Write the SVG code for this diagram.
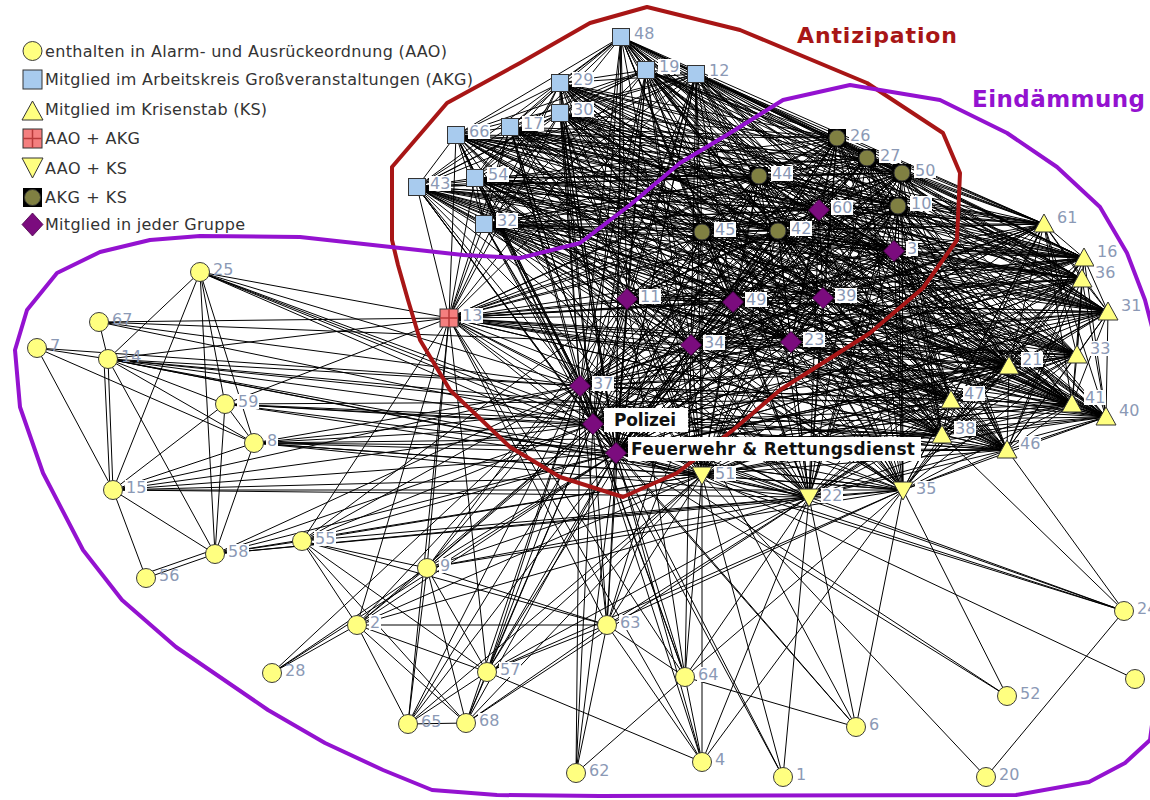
<svg xmlns="http://www.w3.org/2000/svg" width="1150" height="800" viewBox="0 0 1150 800">
<style>
.e{stroke:#000;stroke-width:1;fill:none;stroke-linejoin:miter}
.a{fill:#ffff80;stroke:#3a3a3a;stroke-width:1}
.k{fill:#a8cbee;stroke:#333;stroke-width:1}
.t{fill:#ffff80;stroke:#333;stroke-width:1}
.d{fill:#7b0c7e;stroke:#4a004a;stroke-width:0.8}
.o{fill:#808042;stroke:#333;stroke-width:1}
.bk{fill:#000}
.lb{fill:#fff}
.l{font-family:"DejaVu Sans",Verdana,sans-serif;font-size:16px;fill:#8b99b5}
.lg{font-family:"DejaVu Sans",Verdana,sans-serif;font-size:16px;fill:#333}
.big{font-family:"DejaVu Sans",Verdana,sans-serif;font-weight:bold;font-size:17px;fill:#111}
</style>
<rect width="1150" height="800" fill="#fff"/>
<g id="edges">
<polygon class="e" points="621,37 819,210 1044,224 417,187 627,299 837,138 1106,417 646,70 580,386 809,497 867,158 1108,312 456,135 733,302 759,176 1009,366 696,74 593,424 902,173 1084,258 484,224 691,345 449,318 1007,450 560,83 894,251 898,206 1077,355 475,178 616,453 702,232 942,435 560,113 823,298 903,490 1082,279 510,127 791,342 778,231 951,400 702,475 1072,404 616,453"/>
<polygon class="e" points="621,37 1044,224 627,299 1106,417 580,386 867,158 456,135 759,176 696,74 902,173 484,224 449,318 560,83 898,206 475,178 702,232 560,113 903,490 510,127 778,231 702,475 616,453 819,210 417,187 837,138 646,70 809,497 1108,312 733,302 1009,366 593,424 1084,258 691,345 1007,450 894,251 1077,355 616,453 942,435 823,298 1082,279 791,342 951,400 1072,404"/>
<polygon class="e" points="621,37 417,187 1106,417 809,497 456,135 1009,366 902,173 691,345 560,83 1077,355 702,232 823,298 510,127 951,400 616,453 1044,224 837,138 580,386 1108,312 759,176 593,424 484,224 1007,450 898,206 616,453 560,113 1082,279 778,231 1072,404 819,210 627,299 646,70 867,158 733,302 696,74 1084,258 449,318 894,251 475,178 942,435 903,490 791,342 702,475"/>
<polygon class="e" points="621,37 627,299 580,386 456,135 696,74 484,224 560,83 475,178 560,113 510,127 702,475 819,210 837,138 809,497 733,302 593,424 691,345 894,251 616,453 823,298 791,342 1072,404 1044,224 1106,417 867,158 759,176 902,173 449,318 898,206 702,232 903,490 778,231 616,453 417,187 646,70 1108,312 1009,366 1084,258 1007,450 1077,355 942,435 1082,279 951,400"/>
<polygon class="e" points="621,37 837,138 867,158 1009,366 484,224 894,251 702,232 1082,279 702,475 1044,224 646,70 456,135 593,424 449,318 1077,355 560,113 791,342 616,453 627,299 809,497 759,176 1084,258 560,83 616,453 903,490 951,400 819,210 1106,417 1108,312 696,74 691,345 898,206 942,435 510,127 1072,404 417,187 580,386 733,302 902,173 1007,450 475,178 823,298 778,231"/>
<polygon class="e" points="621,37 1106,417 456,135 902,173 560,83 702,232 510,127 616,453 837,138 1108,312 593,424 1007,450 616,453 1082,279 1072,404 627,299 867,158 696,74 449,318 475,178 903,490 702,475 417,187 809,497 1009,366 691,345 1077,355 823,298 951,400 1044,224 580,386 759,176 484,224 898,206 560,113 778,231 819,210 646,70 733,302 1084,258 894,251 942,435 791,342"/>
<polygon class="e" points="621,37 646,70 759,176 691,345 475,178 1082,279 616,453 1106,417 733,302 484,224 1077,355 903,490 1072,404 837,138 456,135 1084,258 898,206 823,298 702,475 627,299 1108,312 902,173 894,251 560,113 951,400 417,187 867,158 593,424 560,83 942,435 778,231 1044,224 809,497 696,74 1007,450 702,232 791,342 819,210 580,386 1009,366 449,318 616,453 510,127"/>
<polygon class="e" points="621,37 580,386 696,74 560,83 560,113 702,475 837,138 733,302 691,345 616,453 791,342 1044,224 867,158 902,173 898,206 903,490 616,453 646,70 1009,366 1007,450 942,435 951,400 627,299 456,135 484,224 475,178 510,127 819,210 809,497 593,424 894,251 823,298 1072,404 1106,417 759,176 449,318 702,232 778,231 417,187 1108,312 1084,258 1077,355 1082,279"/>
<polygon class="e" points="621,37 809,497 902,173 1077,355 510,127 1044,224 1108,312 484,224 616,453 778,231 627,299 733,302 449,318 942,435 702,475 1106,417 1009,366 560,83 823,298 616,453 580,386 593,424 898,206 1082,279 819,210 867,158 1084,258 475,178 791,342 417,187 456,135 691,345 702,232 951,400 837,138 759,176 1007,450 560,113 1072,404 646,70 696,74 894,251 903,490"/>
<polygon class="e" points="621,37 867,158 484,224 702,232 702,475 646,70 593,424 1077,355 791,342 627,299 759,176 560,83 903,490 819,210 1108,312 691,345 942,435 1072,404 580,386 902,173 475,178 778,231 837,138 1009,366 894,251 1082,279 1044,224 456,135 449,318 560,113 616,453 809,497 1084,258 616,453 951,400 1106,417 696,74 898,206 510,127 417,187 733,302 1007,450 823,298"/>
<polygon class="e" points="621,37 1108,312 449,318 823,298 819,210 456,135 1007,450 903,490 1044,224 733,302 560,83 1082,279 417,187 759,176 894,251 510,127 627,299 1009,366 898,206 791,342 837,138 696,74 1077,355 778,231 1106,417 593,424 475,178 951,400 646,70 902,173 616,453 702,475 580,386 1084,258 702,232 1072,404 809,497 484,224 942,435 616,453 867,158 691,345 560,113"/>
<polygon class="e" points="621,37 456,135 560,83 510,127 837,138 593,424 616,453 1072,404 867,158 449,318 903,490 417,187 1009,366 1077,355 951,400 580,386 484,224 560,113 819,210 733,302 894,251 791,342 1106,417 902,173 702,232 616,453 1108,312 1007,450 1082,279 627,299 696,74 475,178 702,475 809,497 691,345 823,298 1044,224 759,176 898,206 778,231 646,70 1084,258 942,435"/>
<polygon class="e" points="621,37 733,302 898,206 951,400 809,497 449,318 1082,279 837,138 902,173 942,435 819,210 759,176 1077,355 702,475 867,158 1007,450 510,127 1106,417 1084,258 560,113 1044,224 1009,366 475,178 1072,404 1108,312 560,83 791,342 646,70 484,224 823,298 417,187 696,74 616,453 616,453 456,135 894,251 778,231 580,386 691,345 903,490 627,299 593,424 702,232"/>
<polygon class="e" points="621,37 759,176 475,178 616,453 733,302 1077,355 1072,404 456,135 898,206 702,475 1108,312 894,251 951,400 867,158 560,83 778,231 809,497 1007,450 791,342 580,386 449,318 510,127 646,70 691,345 1082,279 1106,417 484,224 903,490 837,138 1084,258 823,298 627,299 902,173 560,113 417,187 593,424 942,435 1044,224 696,74 702,232 819,210 1009,366 616,453"/>
<polygon class="e" points="621,37 1009,366 702,232 1044,224 593,424 560,113 627,299 1084,258 903,490 1106,417 691,345 510,127 580,386 1007,450 778,231 867,158 894,251 702,475 456,135 1077,355 616,453 759,176 616,453 819,210 696,74 942,435 417,187 902,173 823,298 837,138 484,224 1082,279 646,70 449,318 791,342 809,497 560,83 951,400 1108,312 898,206 1072,404 733,302 475,178"/>
<polygon class="e" points="621,37 696,74 560,113 837,138 691,345 791,342 867,158 898,206 616,453 1009,366 942,435 627,299 484,224 510,127 809,497 894,251 1072,404 759,176 702,232 417,187 1084,258 1082,279 580,386 560,83 702,475 733,302 616,453 1044,224 902,173 903,490 646,70 1007,450 951,400 456,135 475,178 819,210 593,424 823,298 1106,417 449,318 778,231 1108,312 1077,355"/>
<polygon class="e" points="621,37 593,424 903,490 580,386 894,251 616,453 696,74 823,298 646,70 560,83 1072,404 1009,366 560,113 1106,417 1007,450 702,475 759,176 942,435 837,138 449,318 951,400 733,302 702,232 627,299 691,345 778,231 456,135 616,453 417,187 484,224 791,342 1108,312 475,178 1044,224 1084,258 510,127 867,158 1077,355 819,210 902,173 1082,279 809,497 898,206"/>
<polygon class="e" points="621,37 902,173 510,127 1108,312 616,453 627,299 449,318 702,475 1009,366 823,298 580,386 898,206 819,210 1084,258 791,342 456,135 702,232 837,138 1007,450 1072,404 696,74 903,490 809,497 1077,355 1044,224 484,224 778,231 733,302 942,435 1106,417 560,83 616,453 593,424 1082,279 867,158 475,178 417,187 691,345 951,400 759,176 560,113 646,70 894,251"/>
<polygon class="e" points="621,37 1084,258 778,231 759,176 823,298 809,497 475,178 627,299 1007,450 616,453 902,173 791,342 733,302 560,113 580,386 1077,355 417,187 449,318 1072,404 593,424 510,127 456,135 942,435 646,70 898,206 1044,224 691,345 702,475 696,74 1082,279 1108,312 702,232 1106,417 894,251 819,210 484,224 951,400 1009,366 903,490 867,158 616,453 837,138 560,83"/>
<path class="e" d="M200 272L108 359M200 272L113 490M200 272L215 554M200 272L225 404M200 272L254 443M200 272L593 424M200 272L616 453M200 272L702 475M200 272L809 497M200 272L580 386M200 272L449 318
M99 322L108 359M99 322L449 318M99 322L580 386M99 322L593 424M99 322L691 345
M37 348L108 359M37 348L254 443M37 348L113 490M37 348L580 386
M108 359L113 490M104 360L110 490M108 359L215 554M108 359L254 443M108 359L225 404M108 359L580 386M108 359L593 424M108 359L616 453M108 359L702 475M108 359L809 497M108 359L942 435M108 359L1007 450M108 359L449 318
M225 404L254 443M225 404L113 490M225 404L215 554M225 404L593 424M225 404L616 453M225 404L951 400M225 404L942 435M225 404L1007 450M225 404L702 475M225 404L449 318
M254 443L113 490M254 443L215 554M254 443L616 453M254 443L702 475M254 443L809 497M254 443L903 490M254 443L1007 450M254 443L942 435M254 443L593 424M254 443L580 386M254 443L1009 366
M113 490L146 578M113 490L215 554M113 490L593 424M113 490L616 453M113 490L702 475M113 490L809 497M113 490L903 490M113 490L580 386
M215 554L146 578M213 550L144 574M215 554L302 541M215 554L593 424M215 554L616 453M215 554L580 386M215 554L702 475M215 554L809 497M215 554L903 490
M302 541L357 625M302 541L427 568M302 541L487 672M302 541L466 723M302 541L607 625M302 541L593 424M302 541L616 453M302 541L580 386M302 541L702 475M302 541L809 497M302 541L449 318M302 541L627 299
M427 568L357 625M427 568L487 672M427 568L466 723M427 568L408 724M427 568L607 625M427 568L593 424M427 568L616 453M427 568L580 386M427 568L627 299M427 568L449 318M427 568L702 475M427 568L809 497M427 568L903 490M427 568L691 345
M357 625L607 625M357 625L487 672M357 625L466 723M357 625L408 724M357 625L272 673M357 625L593 424M357 625L616 453M357 625L580 386M357 625L449 318M357 625L702 475M357 625L809 497
M272 673L427 568M272 673L580 386M272 673L616 453
M487 672L466 723M487 672L408 724M487 672L593 424M487 672L616 453M487 672L580 386M487 672L702 475M487 672L809 497M487 672L903 490M487 672L449 318M487 672L627 299M487 672L691 345M487 672L702 762M487 672L607 625
M408 724L466 723M408 724L593 424M408 724L616 453M408 724L580 386M408 724L702 475M408 724L449 318
M466 723L593 424M466 723L616 453M466 723L580 386M466 723L702 475M466 723L809 497M466 723L607 625
M607 625L685 677M607 625L702 762M607 625L580 386M607 625L593 424M607 625L616 453M607 625L702 475M607 625L809 497M607 625L903 490M607 625L627 299M607 625L691 345M607 625L733 302M607 625L449 318M607 625L576 773
M685 677L856 727M685 677L702 762M685 677L580 386M685 677L593 424M685 677L616 453M685 677L702 475M685 677L809 497M685 677L903 490M685 677L627 299M685 677L449 318M685 677L691 345M685 677L576 773
M576 773L616 453M576 773L593 424M576 773L580 386
M702 762L809 497M702 762L702 475M702 762L616 453M702 762L593 424M702 762L903 490M702 762L449 318
M783 777L616 453M783 777L593 424M783 777L702 475M783 777L809 497
M856 727L903 490M856 727L616 453M856 727L593 424M856 727L809 497M856 727L627 299
M1007 696L903 490M1007 696L593 424M1007 696L616 453
M986 777L1124 611M986 777L702 475
M1124 611L1007 450M1124 611L942 435M1124 611L616 453M1124 611L593 424M1124 611L702 475M1124 611L809 497
M1135 679L702 475"/>
</g>
<g id="contours" fill="none" stroke-width="4" stroke-linejoin="round">
<path stroke="#a81616" d="M392 240L392 167L447 103L520 63L590 23L647 7L740 30L867 83L943 133L960 173L957 240L923 288L870 333L780 390L733 430L677 473L623 497L560 477L510 447L450 390L420 340L408 300L398 265Z"/>
<path stroke="#9412d0" d="M400 248L463 255L520 258L580 243L630 205L680 163L730 133L783 100L850 85L940 100L1007 133L1057 167L1100 207L1127 253L1145 300L1158 350L1162 450L1162 650L1150 740L1125 763L1089 782L1016 795L600 796L497 795L432 790L383 770L325 743L268 710L176 647L122 600L83 550L43 473L20 407L15 350L27 310L57 273L100 252L150 240L200 236L300 237Z"/>
</g>
<g id="titles" font-family="DejaVu Sans,Verdana,sans-serif" font-weight="bold">
<text x="797" y="43" font-size="22" fill="#a81616" textLength="160">Antizipation</text>
<text x="972" y="107" font-size="23" fill="#9412d0" textLength="173">Eindämmung</text>
</g>
<g id="legend">
<circle class="a" cx="32.5" cy="51" r="9.5"/>
<text class="lg" x="45" y="57" textLength="402">enthalten in Alarm- und Ausrückeordnung (AAO)</text>
<rect class="k" x="23" y="70" width="19" height="19"/>
<text class="lg" x="45" y="85" textLength="428">Mitglied im Arbeitskreis Großveranstaltungen (AKG)</text>
<polygon class="t" points="22,120 43,120 32.5,101"/>
<text class="lg" x="45" y="115" textLength="222">Mitglied im Krisenstab (KS)</text>
<rect x="23" y="129" width="19" height="19" fill="#f47f7f" stroke="#333"/>
<path d="M32.5 129V148M23 138.5H42" stroke="#b83a3a" stroke-width="1.5"/>
<text class="lg" x="45" y="144" textLength="95">AAO + AKG</text>
<polygon class="t" points="22,158 43,158 32.5,178"/>
<text class="lg" x="45" y="174" textLength="82">AAO + KS</text>
<rect class="bk" x="23" y="188" width="19" height="19"/>
<circle class="o" cx="32.5" cy="197.5" r="8"/>
<text class="lg" x="45" y="203" textLength="82">AKG + KS</text>
<polygon class="d" points="32.5,213 43,224.5 32.5,236 22,224.5"/>
<text class="lg" x="45" y="230" textLength="200">Mitglied in jeder Gruppe</text>
</g>
<g id="n48"><rect class="k" x="612.5" y="28.5" width="17" height="17"/><rect class="lb" x="633" y="26" width="22" height="15"/><text class="l" x="634" y="39">48</text></g>
<g id="n19"><rect class="k" x="637.5" y="61.5" width="17" height="17"/><rect class="lb" x="658" y="59" width="22" height="15"/><text class="l" x="659" y="72">19</text></g>
<g id="n12"><rect class="k" x="687.5" y="65.5" width="17" height="17"/><rect class="lb" x="708" y="63" width="22" height="15"/><text class="l" x="709" y="76">12</text></g>
<g id="n29"><rect class="k" x="551.5" y="74.5" width="17" height="17"/><rect class="lb" x="572" y="72" width="22" height="15"/><text class="l" x="573" y="85">29</text></g>
<g id="n30"><rect class="k" x="551.5" y="104.5" width="17" height="17"/><rect class="lb" x="572" y="102" width="22" height="15"/><text class="l" x="573" y="115">30</text></g>
<g id="n17"><rect class="k" x="501.5" y="118.5" width="17" height="17"/><rect class="lb" x="522" y="116" width="22" height="15"/><text class="l" x="523" y="129">17</text></g>
<g id="n66"><rect class="k" x="447.5" y="126.5" width="17" height="17"/><rect class="lb" x="468" y="124" width="22" height="15"/><text class="l" x="469" y="137">66</text></g>
<g id="n54"><rect class="k" x="466.5" y="169.5" width="17" height="17"/><rect class="lb" x="487" y="167" width="22" height="15"/><text class="l" x="488" y="180">54</text></g>
<g id="n43"><rect class="k" x="408.5" y="178.5" width="17" height="17"/><rect class="lb" x="429" y="176" width="22" height="15"/><text class="l" x="430" y="189">43</text></g>
<g id="n32"><rect class="k" x="475.5" y="215.5" width="17" height="17"/><rect class="lb" x="496" y="213" width="22" height="15"/><text class="l" x="497" y="226">32</text></g>
<g id="n26"><rect class="bk" x="828" y="129" width="18" height="18"/><circle class="o" cx="837" cy="138" r="8"/><rect class="lb" x="849" y="128" width="22" height="15"/><text class="l" x="850" y="141">26</text></g>
<g id="n27"><rect class="bk" x="858" y="149" width="18" height="18"/><circle class="o" cx="867" cy="158" r="8"/><rect class="lb" x="879" y="148" width="22" height="15"/><text class="l" x="880" y="161">27</text></g>
<g id="n50"><rect class="bk" x="893" y="164" width="18" height="18"/><circle class="o" cx="902" cy="173" r="8"/><rect class="lb" x="914" y="163" width="22" height="15"/><text class="l" x="915" y="176">50</text></g>
<g id="n10"><rect class="bk" x="889" y="197" width="18" height="18"/><circle class="o" cx="898" cy="206" r="8"/><rect class="lb" x="910" y="196" width="22" height="15"/><text class="l" x="911" y="209">10</text></g>
<g id="n44"><rect class="bk" x="750" y="167" width="18" height="18"/><circle class="o" cx="759" cy="176" r="8"/><rect class="lb" x="771" y="166" width="22" height="15"/><text class="l" x="772" y="179">44</text></g>
<g id="n45"><rect class="bk" x="693" y="223" width="18" height="18"/><circle class="o" cx="702" cy="232" r="8"/><rect class="lb" x="714" y="222" width="22" height="15"/><text class="l" x="715" y="235">45</text></g>
<g id="n42"><rect class="bk" x="769" y="222" width="18" height="18"/><circle class="o" cx="778" cy="231" r="8"/><rect class="lb" x="790" y="221" width="22" height="15"/><text class="l" x="791" y="234">42</text></g>
<g id="n60"><polygon class="d" points="819,199.5 829.5,210 819,220.5 808.5,210"/><rect class="lb" x="831" y="200" width="22" height="15"/><text class="l" x="832" y="213">60</text></g>
<g id="n3"><polygon class="d" points="894,240.5 904.5,251 894,261.5 883.5,251"/><rect class="lb" x="906" y="241" width="12" height="15"/><text class="l" x="907" y="254">3</text></g>
<g id="n11"><polygon class="d" points="627,288.5 637.5,299 627,309.5 616.5,299"/><rect class="lb" x="639" y="289" width="22" height="15"/><text class="l" x="640" y="302">11</text></g>
<g id="n49"><polygon class="d" points="733,291.5 743.5,302 733,312.5 722.5,302"/><rect class="lb" x="745" y="292" width="22" height="15"/><text class="l" x="746" y="305">49</text></g>
<g id="n39"><polygon class="d" points="823,287.5 833.5,298 823,308.5 812.5,298"/><rect class="lb" x="835" y="288" width="22" height="15"/><text class="l" x="836" y="301">39</text></g>
<g id="n34"><polygon class="d" points="691,334.5 701.5,345 691,355.5 680.5,345"/><rect class="lb" x="703" y="335" width="22" height="15"/><text class="l" x="704" y="348">34</text></g>
<g id="n23"><polygon class="d" points="791,331.5 801.5,342 791,352.5 780.5,342"/><rect class="lb" x="803" y="332" width="22" height="15"/><text class="l" x="804" y="345">23</text></g>
<g id="n37"><polygon class="d" points="580,375.5 590.5,386 580,396.5 569.5,386"/><rect class="lb" x="592" y="376" width="22" height="15"/><text class="l" x="593" y="389">37</text></g>
<g id="polizei"><polygon class="d" points="593,413.5 603.5,424 593,434.5 582.5,424"/><rect class="lb" x="604" y="408" width="84" height="24"/><text class="big" x="614" y="426" textLength="62">Polizei</text></g>
<g id="feuerwehr"><polygon class="d" points="616,442.5 626.5,453 616,463.5 605.5,453"/><rect class="lb" x="628" y="437" width="293" height="24"/><text class="big" x="631" y="455" textLength="284">Feuerwehr &amp; Rettungsdienst</text></g>
<g id="n13"><rect x="440" y="309" width="18" height="18" fill="#f47f7f" stroke="#333"/><path d="M449 309V327M440 318H458" stroke="#b83a3a" stroke-width="1.5"/><rect class="lb" x="461" y="308" width="22" height="15"/><text class="l" x="462" y="321">13</text></g>
<g id="n61"><polygon class="t" points="1044,214 1054,232 1034,232"/><rect class="lb" x="1056" y="210" width="22" height="15"/><text class="l" x="1057" y="223">61</text></g>
<g id="n16"><polygon class="t" points="1084,248 1094,266 1074,266"/><rect class="lb" x="1096" y="244" width="22" height="15"/><text class="l" x="1097" y="257">16</text></g>
<g id="n36"><polygon class="t" points="1082,269 1092,287 1072,287"/><rect class="lb" x="1094" y="265" width="22" height="15"/><text class="l" x="1095" y="278">36</text></g>
<g id="n31"><polygon class="t" points="1108,302 1118,320 1098,320"/><rect class="lb" x="1120" y="298" width="22" height="15"/><text class="l" x="1121" y="311">31</text></g>
<g id="n33"><polygon class="t" points="1077,345 1087,363 1067,363"/><rect class="lb" x="1089" y="341" width="22" height="15"/><text class="l" x="1090" y="354">33</text></g>
<g id="n21"><polygon class="t" points="1009,356 1019,374 999,374"/><rect class="lb" x="1021" y="352" width="22" height="15"/><text class="l" x="1022" y="365">21</text></g>
<g id="n47"><polygon class="t" points="951,390 961,408 941,408"/><rect class="lb" x="963" y="386" width="22" height="15"/><text class="l" x="964" y="399">47</text></g>
<g id="n41"><polygon class="t" points="1072,394 1082,412 1062,412"/><rect class="lb" x="1084" y="390" width="22" height="15"/><text class="l" x="1085" y="403">41</text></g>
<g id="n40"><polygon class="t" points="1106,407 1116,425 1096,425"/><rect class="lb" x="1118" y="403" width="22" height="15"/><text class="l" x="1119" y="416">40</text></g>
<g id="n38"><polygon class="t" points="942,425 952,443 932,443"/><rect class="lb" x="954" y="421" width="22" height="15"/><text class="l" x="955" y="434">38</text></g>
<g id="n46"><polygon class="t" points="1007,440 1017,458 997,458"/><rect class="lb" x="1019" y="436" width="22" height="15"/><text class="l" x="1020" y="449">46</text></g>
<g id="n51"><polygon class="t" points="692,467 712,467 702,485"/><rect class="lb" x="714" y="466" width="22" height="15"/><text class="l" x="715" y="479">51</text></g>
<g id="n22"><polygon class="t" points="799,489 819,489 809,507"/><rect class="lb" x="821" y="488" width="22" height="15"/><text class="l" x="822" y="501">22</text></g>
<g id="n35"><polygon class="t" points="893,482 913,482 903,500"/><rect class="lb" x="915" y="481" width="22" height="15"/><text class="l" x="916" y="494">35</text></g>
<g id="n25"><circle class="a" cx="200" cy="272" r="9.5"/><text class="l" x="213" y="275">25</text></g>
<g id="n67"><circle class="a" cx="99" cy="322" r="9.5"/><text class="l" x="112" y="325">67</text></g>
<g id="n7"><circle class="a" cx="37" cy="348" r="9.5"/><text class="l" x="50" y="351">7</text></g>
<g id="n14"><circle class="a" cx="108" cy="359" r="9.5"/><text class="l" x="121" y="362">14</text></g>
<g id="n59"><circle class="a" cx="225" cy="404" r="9.5"/><rect class="lb" x="237" y="394" width="22" height="15"/><text class="l" x="238" y="407">59</text></g>
<g id="n8"><circle class="a" cx="254" cy="443" r="9.5"/><rect class="lb" x="266" y="433" width="12" height="15"/><text class="l" x="267" y="446">8</text></g>
<g id="n15"><circle class="a" cx="113" cy="490" r="9.5"/><rect class="lb" x="125" y="480" width="22" height="15"/><text class="l" x="126" y="493">15</text></g>
<g id="n58"><circle class="a" cx="215" cy="554" r="9.5"/><rect class="lb" x="227" y="544" width="22" height="15"/><text class="l" x="228" y="557">58</text></g>
<g id="n56"><circle class="a" cx="146" cy="578" r="9.5"/><text class="l" x="159" y="581">56</text></g>
<g id="n55"><circle class="a" cx="302" cy="541" r="9.5"/><rect class="lb" x="314" y="531" width="22" height="15"/><text class="l" x="315" y="544">55</text></g>
<g id="n9"><circle class="a" cx="427" cy="568" r="9.5"/><rect class="lb" x="439" y="558" width="12" height="15"/><text class="l" x="440" y="571">9</text></g>
<g id="n2"><circle class="a" cx="357" cy="625" r="9.5"/><rect class="lb" x="369" y="615" width="12" height="15"/><text class="l" x="370" y="628">2</text></g>
<g id="n28"><circle class="a" cx="272" cy="673" r="9.5"/><text class="l" x="285" y="676">28</text></g>
<g id="n57"><circle class="a" cx="487" cy="672" r="9.5"/><rect class="lb" x="499" y="662" width="22" height="15"/><text class="l" x="500" y="675">57</text></g>
<g id="n65"><circle class="a" cx="408" cy="724" r="9.5"/><text class="l" x="421" y="727">65</text></g>
<g id="n68"><circle class="a" cx="466" cy="723" r="9.5"/><rect class="lb" x="478" y="713" width="22" height="15"/><text class="l" x="479" y="726">68</text></g>
<g id="n63"><circle class="a" cx="607" cy="625" r="9.5"/><rect class="lb" x="619" y="615" width="22" height="15"/><text class="l" x="620" y="628">63</text></g>
<g id="n64"><circle class="a" cx="685" cy="677" r="9.5"/><rect class="lb" x="697" y="667" width="22" height="15"/><text class="l" x="698" y="680">64</text></g>
<g id="n62"><circle class="a" cx="576" cy="773" r="9.5"/><text class="l" x="589" y="776">62</text></g>
<g id="n4"><circle class="a" cx="702" cy="762" r="9.5"/><text class="l" x="715" y="765">4</text></g>
<g id="n1"><circle class="a" cx="783" cy="777" r="9.5"/><text class="l" x="796" y="780">1</text></g>
<g id="n6"><circle class="a" cx="856" cy="727" r="9.5"/><text class="l" x="869" y="730">6</text></g>
<g id="n52"><circle class="a" cx="1007" cy="696" r="9.5"/><text class="l" x="1020" y="699">52</text></g>
<g id="n20"><circle class="a" cx="986" cy="777" r="9.5"/><text class="l" x="999" y="780">20</text></g>
<g id="n24"><circle class="a" cx="1124" cy="611" r="9.5"/><text class="l" x="1137" y="614">24</text></g>
<g id="nX"><circle class="a" cx="1135" cy="679" r="9.5"/></g>
</svg>
